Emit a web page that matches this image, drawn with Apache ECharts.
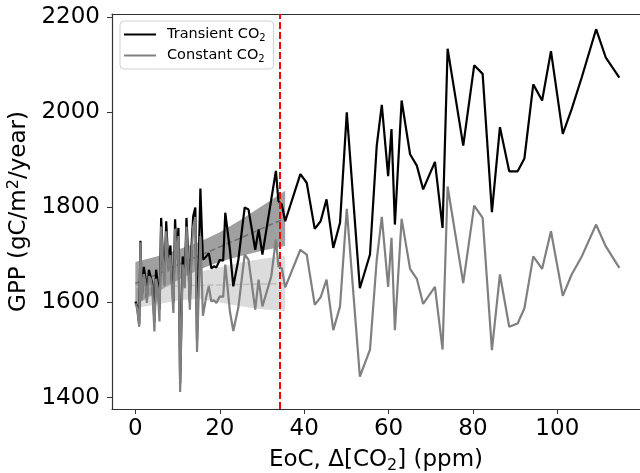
<!DOCTYPE html>
<html>
<head>
<meta charset="utf-8">
<script src="https://cdn.jsdelivr.net/npm/echarts@6/dist/echarts.min.js"></script>
<style>
  html, body { margin: 0; padding: 0; background: #fff; }
  #chart { width: 640px; height: 473px; }
</style>
</head>
<body>
<div id="chart"></div>
<script>
// EoC delta CO2 (ppm), shared by both runs
const co2 = [
  0.0, 0.4, 0.9, 1.2, 1.5,
  2.0, 2.4, 2.7, 3.2, 3.6,
  4.0, 4.5, 4.9, 5.3, 5.7,
  6.1, 6.5, 6.9, 7.3, 7.8,
  8.3, 8.6, 9.0, 9.4, 9.8,
  10.2, 10.6, 11.2, 11.7, 12.1,
  12.5, 12.9, 13.3, 13.7, 14.2,
  14.6, 15.4, 16.0, 16.8, 17.4,
  18.0, 18.6, 19.2, 20.0, 20.8,
  21.3, 22.4, 23.2, 24.4, 25.9,
  26.8, 28.4, 29.2, 30.1, 32.2,
  33.3, 33.9, 34.7, 35.5,
  39.1, 40.6, 42.5, 43.9, 45.3,
  46.9, 48.5, 50.1, 53.2, 55.6,
  57.2, 58.4, 59.9, 60.7, 61.5,
  63.1, 65.1, 66.7, 68.2, 71.0,
  72.8, 74.0, 77.7, 80.3, 82.3,
  84.5, 86.4, 88.6, 90.6, 92.2,
  94.3, 96.4, 98.5, 101.3, 103.4,
  105.8, 109.2, 111.5, 114.7
];

const gppTransient = [
  1602, 1592, 1555, 1730, 1610,
  1675, 1650, 1610, 1669, 1665,
  1640, 1560, 1669, 1640, 1585,
  1778, 1700, 1660, 1771, 1680,
  1720, 1650, 1600, 1775, 1700,
  1757, 1430, 1697, 1650, 1778,
  1700, 1600, 1720, 1782, 1800,
  1520, 1840, 1690, 1697, 1704,
  1672, 1676, 1674, 1690, 1688,
  1789, 1711, 1634, 1690, 1800,
  1796, 1711, 1754, 1701, 1817,
  1877, 1813, 1806, 1771,
  1870, 1852, 1755, 1771, 1817,
  1715, 1768, 2000, 1630, 1701,
  1930, 2016, 1866, 1965, 1764,
  2025, 1912, 1888, 1838, 1896,
  1757, 2134, 1930, 2099, 2081,
  1790, 1969, 1876, 1876, 1903,
  2059, 2025, 2129, 1955, 2007,
  2074, 2175, 2115, 2073
];

const gppConstant = [
  1598, 1588, 1549, 1727, 1605,
  1660, 1640, 1599, 1655, 1650,
  1630, 1539, 1650, 1630, 1560,
  1760, 1690, 1634, 1750, 1665,
  1700, 1640, 1578, 1755, 1690,
  1740, 1412, 1680, 1630, 1760,
  1690, 1585, 1700, 1760, 1780,
  1496, 1740, 1572, 1613, 1634,
  1602, 1605, 1599, 1613, 1612,
  1680, 1581, 1540, 1590, 1701,
  1690, 1585, 1648, 1592, 1655,
  1733, 1676, 1672, 1632,
  1711, 1701, 1595, 1611, 1648,
  1542, 1592, 1797, 1444, 1501,
  1690, 1780, 1633, 1736, 1542,
  1776, 1671, 1650, 1597, 1633,
  1501, 1844, 1641, 1804, 1778,
  1500, 1659, 1549, 1556, 1588,
  1697, 1671, 1750, 1614, 1659,
  1697, 1764, 1718, 1673
];

// regression fits with confidence bands
const fitX = [0, 5, 10, 15, 20, 25, 30, 35.5];
const fitTransient = [1640, 1659, 1679, 1698, 1717, 1736, 1756, 1777];
const upperTransient = [1685, 1697, 1711, 1727, 1748, 1774, 1803, 1835];
const lowerTransient = [1595, 1621, 1647, 1669, 1686, 1698, 1709, 1719];
const fitConstant = [1633, 1634, 1635, 1636, 1637, 1638, 1639, 1640];
const upperConstant = [1678, 1672, 1666, 1664, 1674, 1684, 1692, 1698];
const lowerConstant = [1588, 1596, 1604, 1608, 1600, 1592, 1586, 1582];

const cutoff = 34.3;
const xTicks = [0, 20, 40, 60, 80, 100];
const yTicks = [1400, 1600, 1800, 2000, 2200];

const FONT = "DejaVu Sans";
const AXIS_COLOR = "#333";

const zip = (xs, ys) => xs.map((x, i) => [x, ys[i]]);

function bandSeries(name, upper, lower, fill, z) {
  return {
    name,
    type: "custom",
    silent: true,
    z,
    data: [0],
    renderItem(params, api) {
      if (params.dataIndex !== 0) return;
      const top = fitX.map((x, i) => api.coord([x, upper[i]]));
      const bottom = fitX.map((x, i) => api.coord([x, lower[i]])).reverse();
      return {
        type: "polygon",
        shape: { points: top.concat(bottom) },
        style: { fill },
      };
    },
  };
}

function fitSeries(name, values, color, z) {
  return {
    name,
    type: "line",
    silent: true,
    z,
    showSymbol: false,
    data: zip(fitX, values),
    lineStyle: { color, width: 1.5, type: [6, 3] },
  };
}

const chart = echarts.init(document.getElementById("chart"));

chart.setOption({
  animation: false,
  textStyle: { fontFamily: FONT },
  grid: { left: 112, right: 0, top: 14, bottom: 64, outerBoundsMode: "none", containLabel: false },
  legend: {
    left: 120,
    top: 21,
    orient: "vertical",
    data: [
      { name: "Transient CO2", icon: "rect" },
      { name: "Constant CO2", icon: "rect" },
    ],
    itemWidth: 32,
    itemHeight: 2,
    itemGap: 5,
    padding: [6, 8, 5, 4],
    borderColor: "#d0d0d0",
    borderWidth: 1,
    borderRadius: 4,
    backgroundColor: "rgba(255,255,255,0.8)",
    formatter: (name) => name.replace("CO2", "CO{s|2}"),
    textStyle: {
      fontFamily: FONT,
      fontSize: 14.5,
      color: "#000",
      padding: [0, 0, 0, 6],
      rich: {
        s: { fontFamily: FONT, fontSize: 10, padding: [7, 0, 0, 0], color: "#000" },
      },
    },
  },
  xAxis: [
    {
      type: "value",
      min: -5.55,
      max: 119.6,
      name: "EoC, Δ[CO{s|2}] (ppm)",
      nameLocation: "middle",
      nameGap: 38,
      nameTextStyle: {
        fontFamily: FONT,
        fontSize: 23,
        color: "#000",
        rich: {
          s: { fontFamily: FONT, fontSize: 16, padding: [11, 0, 0, 0], color: "#000" },
        },
      },
      axisLine: { show: true, onZero: false, lineStyle: { color: AXIS_COLOR, width: 1.2 } },
      axisTick: { show: true, length: 5, customValues: xTicks, lineStyle: { color: AXIS_COLOR } },
      axisLabel: { customValues: xTicks, margin: 9, fontFamily: FONT, fontSize: 23, color: "#000" },
      splitLine: { show: false },
    },
    {
      type: "value",
      position: "top",
      min: -5.55,
      max: 119.6,
      axisLine: { show: true, onZero: false, lineStyle: { color: AXIS_COLOR, width: 1.2 } },
      axisTick: { show: false },
      axisLabel: { show: false },
      splitLine: { show: false },
    },
  ],
  yAxis: {
    type: "value",
    min: 1376,
    max: 2207,
    name: "GPP (gC/m{p|2}/year)",
    nameLocation: "middle",
    nameGap: 74,
    nameTextStyle: {
      fontFamily: FONT,
      fontSize: 23,
      color: "#000",
      rich: {
        p: { fontFamily: FONT, fontSize: 16, padding: [0, 0, 11, 0], color: "#000" },
      },
    },
    axisLine: { show: true, onZero: false, lineStyle: { color: AXIS_COLOR, width: 1.2 } },
    axisTick: { show: true, length: 5, customValues: yTicks, lineStyle: { color: AXIS_COLOR } },
    axisLabel: {
      customValues: yTicks,
      margin: 12,
      fontFamily: FONT,
      fontSize: 23,
      color: "#000",
      formatter: (v) => String(v),
    },
    splitLine: { show: false },
  },
  series: [
    bandSeries("bandConstant", upperConstant, lowerConstant, "#dcdcdc", 1),
    bandSeries("bandTransient", upperTransient, lowerTransient, "#a0a0a0", 2),
    fitSeries("fitConstant", fitConstant, "#bcbcbc", 3),
    fitSeries("fitTransient", fitTransient, "#6e6e6e", 3),
    {
      name: "Transient CO2",
      type: "line",
      z: 4,
      showSymbol: false,
      data: zip(co2, gppTransient),
      itemStyle: { color: "#000" },
      lineStyle: { color: "#000", width: 2.2 },
    },
    {
      name: "Constant CO2",
      type: "line",
      z: 5,
      showSymbol: false,
      data: zip(co2, gppConstant),
      itemStyle: { color: "#808080" },
      lineStyle: { color: "#808080", width: 2.2 },
      markLine: {
        silent: true,
        symbol: "none",
        label: { show: false },
        lineStyle: { color: "#ff0000", width: 2, type: [7, 3] },
        data: [{ xAxis: cutoff }],
      },
    },
  ],
});
</script>
</body>
</html>
